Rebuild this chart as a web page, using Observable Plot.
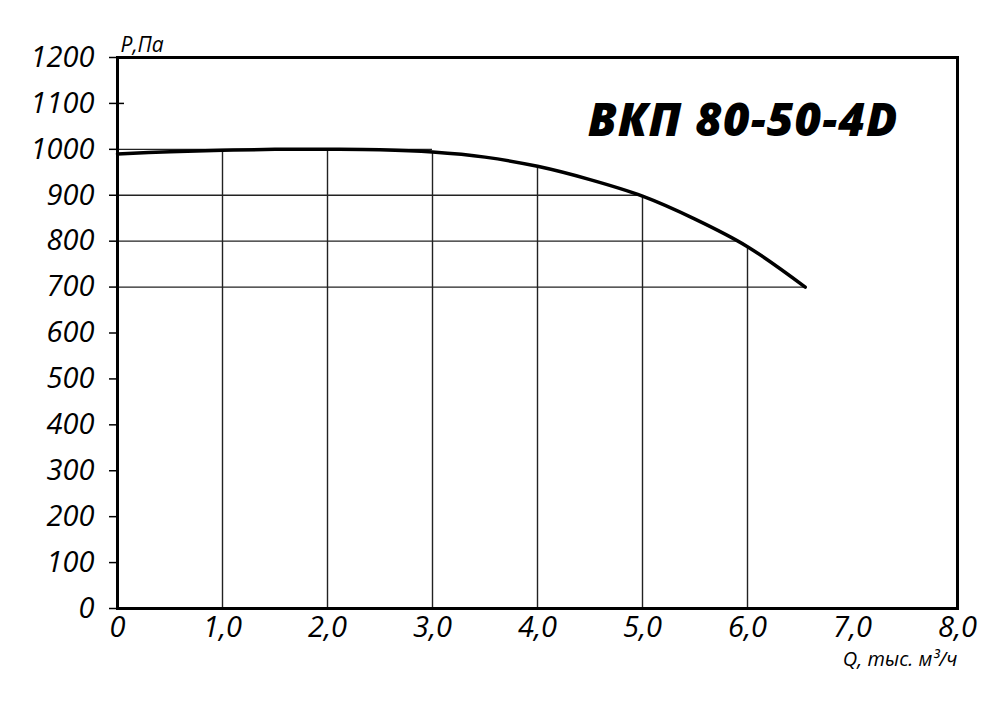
<!DOCTYPE html>
<html>
<head>
<meta charset="utf-8">
<script src="https://cdn.jsdelivr.net/npm/d3@7"></script>
<script src="https://cdn.jsdelivr.net/npm/@observablehq/plot@0.6"></script>
<style>
  html, body { margin: 0; padding: 0; background: #fff; }
  #chart { width: 1000px; height: 711px; }
</style>
</head>
<body>
<div id="chart"></div>
<script>
// Fan curve: Q (thousand m3/h) vs P (Pa)
const flowQ = [0, 0.5, 1, 1.5, 2, 2.5, 3, 3.5, 4, 4.5, 5, 5.5, 6, 6.55];
const pressureP = [990, 995, 998, 1000, 1000, 999, 994, 983, 963, 934, 898, 848, 788, 700];

// Grid lines drawn only under the curve
const gridQ = [1, 2, 3, 4, 5, 6];
const gridQTop = [998, 1000, 994, 963, 898, 788];
const gridP = [700, 800, 900, 1000];
const gridPEnd = [6.55, 5.9, 4.97, 3.0];

// Axis ticks
const yTicks = [0, 100, 200, 300, 400, 500, 600, 700, 800, 900, 1000, 1100, 1200];
const xTicks = [0, 1, 2, 3, 4, 5, 6, 7, 8];
const xTickLabels = ["0", "1,0", "2,0", "3,0", "4,0", "5,0", "6,0", "7,0", "8,0"];

const title = "ВКП 80-50-4D";
const yLabel = "P,Па";
const xLabel = "Q, тыс. м³/ч";

const curve = flowQ.map((q, i) => ({q, p: pressureP[i]}));
const vGrid = gridQ.map((q, i) => ({q, top: gridQTop[i]}));
const hGrid = gridP.map((p, i) => ({p, end: gridPEnd[i]}));

const font = "'Open Sans', 'Noto Sans', sans-serif";

const chart = Plot.plot({
  width: 1000,
  height: 711,
  marginLeft: 117,
  marginRight: 43,
  marginTop: 57,
  marginBottom: 103,
  style: {fontFamily: font, background: "#fff", color: "#000"},
  x: {domain: [0, 8]},
  y: {domain: [0, 1200]},
  marks: [
    Plot.ruleX(vGrid, {x: "q", y1: 0, y2: "top", stroke: "#222", strokeWidth: 1.4}),
    Plot.ruleY(hGrid, {y: "p", x1: 0, x2: "end", stroke: "#222", strokeWidth: 1.4}),
    Plot.line(curve, {x: "q", y: "p", curve: "catmull-rom", stroke: "#000", strokeWidth: 3.5}),
    Plot.frame({stroke: "#000", strokeWidth: 3}),
    Plot.axisY({ticks: yTicks, tickSize: 8, tickPadding: 15, tickFormat: d => String(d),
      fontSize: 29, fontStyle: "italic", fontFamily: font, label: null, stroke: "#000", strokeWidth: 1.5, fill: "#000"}),
    Plot.axisY({ticks: [1100], tickSize: -7, tickFormat: () => "", label: null, strokeWidth: 1.5}),
    Plot.axisX({ticks: xTicks, tickSize: 0, tickPadding: 8, tickFormat: d => xTickLabels[xTicks.indexOf(d)],
      fontSize: 29, fontStyle: "italic", fontFamily: font, label: null, fill: "#000"}),
    Plot.text([yLabel], {frameAnchor: "top-left", textAnchor: "start", lineAnchor: "bottom", dx: 3, dy: -6,
      fontSize: 21, fontStyle: "italic", fontFamily: font, fill: "#000"}),
    Plot.text([xLabel], {frameAnchor: "bottom-right", textAnchor: "end", lineAnchor: "top", dx: 0, dy: 43,
      fontSize: 20, fontStyle: "italic", fontFamily: font, fill: "#000"}),
    Plot.text([title], {frameAnchor: "top-right", textAnchor: "end", lineAnchor: "top", dx: -59, dy: 46,
      fontSize: 46, fontStyle: "italic", fontWeight: 800, fontFamily: font, fill: "#000"})
  ]
});
d3.select(chart).selectAll("text")
  .filter(function() { return this.textContent === title; })
  .style("letter-spacing", "1px");
document.getElementById("chart").appendChild(chart);
</script>
</body>
</html>
